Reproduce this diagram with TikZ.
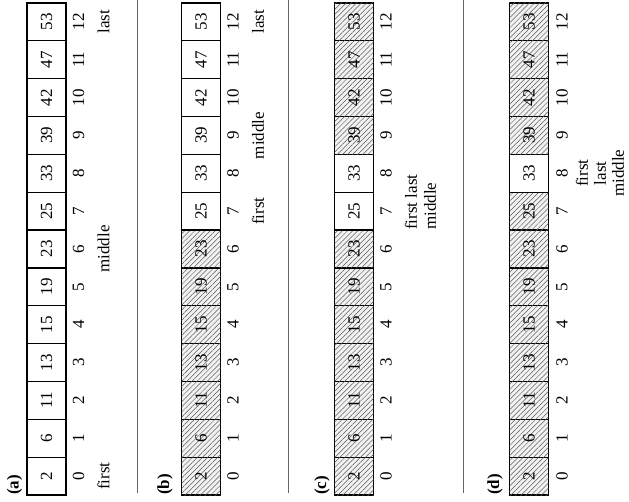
\documentclass[tikz,border=0pt]{standalone}
\usepackage{fontspec}
\setmainfont{Liberation Serif}
\usetikzlibrary{patterns,patterns.meta}
\begin{document}
\begin{tikzpicture}[x=1pt,y=-1pt,
  txt/.style={font=\fontsize{17}{19}\selectfont},
  cell/.style={txt,draw=black,line width=1.3pt,minimum width=39pt,minimum height=37.85pt,inner sep=0pt,outer sep=0pt},
  sty0/.style={fill=white},
  sty1/.style={fill=gray!10,postaction={pattern={Lines[angle=45,distance=3.6pt,line width=0.5pt]},pattern color=black!65}},
  idx/.style={txt,rotate=90,inner sep=0pt},
  lab/.style={txt,rotate=90,inner sep=0pt},
  plabel/.style={font=\fontsize{17}{19}\selectfont\bfseries,rotate=90,inner sep=0pt,anchor=west},
  sep/.style={draw=black!60,line width=0.8pt}]
\useasboundingbox (0,0) rectangle (629,502);
\fill[white] (0,0) rectangle (629,502);

% separators
\coordinate (s1t) at (137,0); \coordinate (s1b) at (137,493);
\coordinate (s2t) at (288,0); \coordinate (s2b) at (288,493);
\coordinate (s3t) at (463,0); \coordinate (s3b) at (463,493);
\draw[sep] (s1t) -- (s1b);
\draw[sep] (s2t) -- (s2b);
\draw[sep] (s3t) -- (s3b);

% panel (a)
\foreach \v/\s [count=\k from 0] in {2/0,6/0,11/0,13/0,15/0,19/0,23/0,25/0,33/0,39/0,42/0,47/0,53/0}{
  \node[cell,sty\s] (a\k) at (46.5,{495-(\k+0.5)*37.85}) {\rotatebox{90}{\v}};
  \node[idx] (ai\k) at ([xshift=32pt]a\k.center) {\k};
}
\node[plabel] (la) at ([xshift=-32pt]a0.south) {(a)};
\node[lab] (afirst) at ([xshift=57pt]a0.center) {first};
\node[lab] (amiddle) at ([xshift=57pt]a6.center) {middle};
\node[lab] (alast) at ([xshift=57pt]a12.center) {last};

% panel (b)
\foreach \v/\s [count=\k from 0] in {2/1,6/1,11/1,13/1,15/1,19/1,23/1,25/0,33/0,39/0,42/0,47/0,53/0}{
  \node[cell,sty\s] (b\k) at (201,{495-(\k+0.5)*37.85}) {\rotatebox{90}{\v}};
  \node[idx] (bi\k) at ([xshift=32pt]b\k.center) {\k};
}
\node[plabel] (lb) at ([xshift=-36pt]b0.south) {(b)};
\node[lab] (bfirst) at ([xshift=57pt]b7.center) {first};
\node[lab] (bmiddle) at ([xshift=57pt]b9.center) {middle};
\node[lab] (blast) at ([xshift=57pt]b12.center) {last};

% panel (c)
\foreach \v/\s [count=\k from 0] in {2/1,6/1,11/1,13/1,15/1,19/1,23/1,25/0,33/0,39/1,42/1,47/1,53/1}{
  \node[cell,sty\s] (c\k) at (354,{495-(\k+0.5)*37.85}) {\rotatebox{90}{\v}};
  \node[idx] (ci\k) at ([xshift=32pt]c\k.center) {\k};
}
\node[plabel] (lc) at ([xshift=-32pt]c0.south) {(c)};
\node[lab,align=left,anchor=west] (cptr) at ([xshift=66.5pt]c7.south) {first last\\middle};

% panel (d)
\foreach \v/\s [count=\k from 0] in {2/1,6/1,11/1,13/1,15/1,19/1,23/1,25/1,33/0,39/1,42/1,47/1,53/1}{
  \node[cell,sty\s] (d\k) at (529,{495-(\k+0.5)*37.85}) {\rotatebox{90}{\v}};
  \node[idx] (di\k) at ([xshift=33pt]d\k.center) {\k};
}
\node[plabel] (ld) at ([xshift=-34pt]d0.south) {(d)};
\node[lab,align=center,font=\fontsize{17}{18}\selectfont] (dptr) at ([xshift=71pt]d8.center) {first\\last\\middle};
\end{tikzpicture}
\end{document}
